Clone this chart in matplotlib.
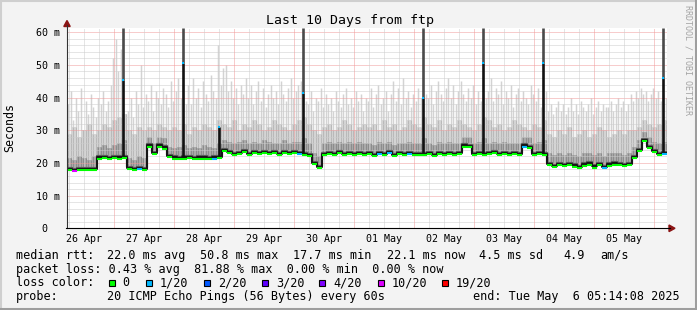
import numpy as np
import matplotlib
matplotlib.use('Agg')
import matplotlib.pyplot as plt
import matplotlib.transforms as mtransforms
from matplotlib.lines import Line2D
from matplotlib.patches import Rectangle, Polygon

W, H = 697, 310
MONO = 'DejaVu Sans Mono'
plt.rcParams['font.family'] = MONO

# x axis: hours since Apr 26 05:14:08, 10 days
SPAN = 240
STEP = 2            # median / smoke bands: one value per 2 hours
FIRST_MIDNIGHT = 18.7644

day_labels = ['26 Apr', '27 Apr', '28 Apr', '29 Apr', '30 Apr',
              '01 May', '02 May', '03 May', '04 May', '05 May']

# median rtt (ms), one per 2 h
median_ms = [
    17.8, 17.6, 17.9, 17.7, 17.8, 17.9, 21.3, 21.5, 21.2, 21.4, 21.3, 21.4,
    18.0, 17.8, 18.2, 17.9, 25.0, 22.8, 25.0, 24.4, 21.8, 21.3, 21.2, 21.3,
    21.4, 21.2, 21.3, 21.3, 21.2, 21.3, 21.4, 23.6, 23.0, 22.4, 22.8, 23.2,
    22.5, 23.0, 22.6, 23.1, 22.7, 22.9, 22.4, 23.0, 22.6, 22.9, 22.6, 22.3,
    22.0, 19.6, 18.3, 22.4, 22.8, 22.3, 22.9, 22.5, 22.7, 22.3, 22.8, 22.4,
    22.6, 22.1, 22.7, 22.3, 22.9, 22.2, 22.6, 22.4, 22.8, 22.3, 22.5, 22.4,
    22.6, 22.2, 22.7, 22.4, 22.8, 22.3, 22.6, 25.0, 24.8, 22.5, 22.8, 22.3,
    22.6, 22.9, 22.4, 22.7, 22.3, 22.6, 22.4, 25.0, 24.6, 22.5, 22.7, 22.4,
    19.4, 18.8, 19.3, 19.0, 19.4, 18.9, 18.3, 19.2, 19.5, 18.6, 19.3, 18.4,
    19.2, 19.5, 19.3, 19.0, 19.4, 21.6, 23.6, 26.6, 24.6, 23.2, 22.4, 22.6,
]

# top of the dense dark smoke (ms), one per 2 h
dark_ms = [
    21.5, 21.0, 22.0, 21.5, 21.0, 22.0, 25.0, 25.5, 24.5, 25.5, 26.0, 27.0,
    21.5, 21.0, 22.0, 21.5, 28.0, 26.0, 28.0, 27.5, 25.0, 24.5, 25.0, 25.5,
    24.5, 25.0, 24.5, 25.5, 25.0, 24.5, 26.0, 27.0, 26.5, 26.0, 26.5, 27.0,
    26.0, 26.5, 26.0, 27.0, 26.5, 26.0, 26.0, 27.0, 26.0, 26.5, 26.5, 27.5,
    26.0, 23.0, 22.0, 26.0, 26.5, 26.0, 26.5, 26.0, 26.5, 26.0, 26.5, 26.0,
    26.0, 25.5, 26.5, 26.0, 26.5, 25.5, 26.0, 26.0, 26.5, 26.0, 26.0, 27.5,
    26.0, 25.5, 26.5, 26.0, 26.5, 26.0, 26.0, 28.0, 28.0, 26.0, 26.5, 27.5,
    26.0, 26.5, 26.0, 26.5, 26.0, 26.0, 26.0, 28.0, 28.0, 26.0, 26.5, 27.0,
    23.0, 22.5, 23.0, 22.5, 23.0, 22.5, 22.0, 23.0, 23.0, 22.5, 23.0, 22.0,
    23.0, 23.0, 23.0, 22.5, 23.0, 25.0, 27.0, 29.5, 28.0, 26.5, 26.0, 26.5,
]

# top of the medium smoke (ms), one per 2 h
mid_ms = [
    29, 31, 28, 30, 32, 29, 30, 32, 31, 33, 34, 35,
    30, 29, 31, 30, 31, 30, 32, 31, 30, 31, 30, 32,
    29, 31, 30, 32, 31, 30, 33, 32, 31, 33, 30, 32,
    31, 33, 32, 30, 31, 33, 32, 31, 30, 32, 33, 34,
    32, 30, 29, 31, 32, 30, 31, 33, 32, 30, 31, 32,
    31, 32, 30, 33, 31, 32, 30, 31, 33, 32, 31, 34,
    32, 31, 33, 30, 32, 31, 33, 32, 31, 30, 32, 34,
    33, 31, 32, 30, 31, 33, 32, 31, 30, 32, 31, 33,
    29, 28, 30, 29, 31, 28, 29, 30, 28, 29, 31, 30,
    28, 29, 30, 29, 30, 30, 31, 33, 32, 31, 32, 33,
]

# max ping (ms), one per hour
max_ms = [
    38, 42, 33, 40, 36, 43, 30, 39, 35, 41, 37, 34, 40, 38, 42, 36, 39, 44, 52, 58, 48, 55, 60, 35,
    36, 40, 34, 42, 38, 50, 37, 41, 39, 44, 36, 42, 40, 38, 43, 41, 37, 45, 39, 42, 46, 40, 44, 38,
    44, 38, 46, 40, 43, 37, 45, 41, 39, 47, 42, 40, 56, 44, 49, 50, 42, 45, 40, 43, 38, 44, 41, 46,
    40, 44, 38, 42, 45, 39, 43, 37, 41, 44, 40, 42, 38, 45, 41, 39, 43, 46, 40, 42, 44, 45, 41, 39,
    38, 42, 36, 40, 39, 43, 37, 41, 38, 40, 36, 42, 39, 37, 41, 43, 38, 40, 37, 42, 39, 41, 36, 40,
    39, 43, 37, 41, 44, 38, 40, 42, 36, 41, 45, 39, 43, 38, 46, 40, 42, 37, 41, 39, 43, 40, 38, 41,
    40, 44, 38, 42, 45, 41, 39, 43, 46, 40, 44, 38, 42, 45, 41, 39, 43, 40, 44, 38, 42, 39, 41, 40,
    42, 46, 39, 43, 41, 45, 38, 42, 40, 44, 37, 41, 43, 39, 42, 40, 38, 44, 41, 39, 43, 37, 40, 42,
    36, 38, 35, 37, 39, 36, 38, 35, 37, 40, 36, 38, 35, 39, 37, 36, 38, 40, 35, 37, 39, 36, 38, 37,
    37, 39, 36, 38, 40, 37, 39, 36, 38, 41, 39, 42, 40, 43, 41, 42, 39, 41, 43, 40, 42, 39, 41, 40,
]

# samples whose median had loss (index into median_ms, loss level index)
loss_idx = [1, 14, 29, 46, 62, 64, 68, 91, 107, 119]
loss_lvl = [5, 1, 1, 1, 1, 1, 1, 1, 1, 1]

# loss spikes
spike_h = [22.4, 46.4, 60.8, 94.4, 142.4, 166.4, 190.4, 238.4]
spike_med = [45.4, 50.5, 31.0, 41.5, 39.8, 50.5, 50.7, 46.0]
spike_top = [61.2, 61.2, 31.0, 61.2, 61.2, 61.2, 61.2, 61.2]

loss_names = ['0', '1/20', '2/20', '3/20', '4/20', '10/20', '19/20']
loss_colors = ['#00ff00', '#00b8ff', '#0059ff', '#5e00ff', '#7e00ff', '#dd00ff', '#ff0000']

fig = plt.figure(figsize=(W / 100, H / 100), dpi=100)
fig.patch.set_facecolor('#f3f3f3')


def px(x, y):
    return x / W, 1 - y / H


def ftext(x, y, s, **kw):
    kw.setdefault('size', 8.5)
    kw.setdefault('va', 'baseline')
    fig.text(*px(x, y), s, family=MONO, color=kw.pop('color', 'black'), **kw)


ax = fig.add_axes([67 / W, 1 - 228.3 / H, 600 / W, 200 / H])
ax.set_facecolor('white')
ax.set_xlim(0, SPAN)
ax.set_ylim(0, 61.2)
for s in ax.spines.values():
    s.set_visible(False)

med = np.array(median_ms)
t2 = np.arange(len(med)) * STEP
te = np.append(t2, SPAN)
t1 = np.arange(len(max_ms)) + 0.5
base1 = med[np.arange(len(max_ms)) // STEP]
mid1 = np.array(mid_ms)[np.arange(len(max_ms)) // STEP]
dark1 = np.array(dark_ms)[np.arange(len(max_ms)) // STEP]

# smoke, light to dark
ax.vlines(t1, base1, max_ms, color='#d3d3d3', lw=1.05, zorder=1)
ax.fill_between(te, np.append(med, med[-1]), np.append(mid_ms, mid_ms[-1]),
                step='post', color='#d6d6d6', lw=0, zorder=1.1)
ax.vlines(t1, base1, mid1, color='#b9b9b9', lw=0.8, zorder=1.2)
ax.fill_between(te, np.append(med, med[-1]), np.append(dark_ms, dark_ms[-1]),
                step='post', color='#acacac', lw=0, zorder=1.3)
ax.vlines(t1, base1, dark1, color='#8c8c8c', lw=0.8, zorder=1.4)

# grid
h_minor = [v for v in range(2, 61, 2) if v % 10]
for v in h_minor:
    ax.axhline(v, color='#cdcdcd', lw=0.72, ls=(0, (1, 1)), zorder=3)
for v in range(10, 61, 10):
    ax.axhline(v, color='#f09a9a', lw=0.72, ls=(0, (1, 1)), zorder=3)
for k in range(-3, 41):
    h = FIRST_MIDNIGHT + 6 * k
    if 0 < h < SPAN:
        col = '#f09a9a' if k % 4 == 0 else '#cdcdcd'
        ax.axvline(h, color=col, lw=0.72, ls=(0, (1, 1)), zorder=3)

# median line
medx = np.append(med, med[-1])
up2 = mtransforms.offset_copy(ax.transData, fig=fig, x=0, y=2.2, units='dots')
up1 = mtransforms.offset_copy(ax.transData, fig=fig, x=0, y=1.2, units='dots')
ax.step(te, medx, where='post', color='#5a5a5a', lw=1.6, zorder=3.8, transform=up2)
ax.step(te, medx, where='post', color='#141414', lw=1.4, zorder=4, transform=up1)
cols = [loss_colors[0]] * len(med)
for i, l in zip(loss_idx, loss_lvl):
    cols[i] = loss_colors[l]
ax.hlines(med, t2, t2 + STEP, colors=cols, lw=1.5, zorder=5)

# loss spikes
for h, sm, st in zip(spike_h, spike_med, spike_top):
    base = med[int(h // STEP)]
    ax.vlines(h, base, sm, color='#111111', lw=1.9, zorder=4.5)
    if st > sm:
        ax.vlines(h, sm, st, color='#4a4a4a', lw=1.9, zorder=4.5)
    ax.hlines(sm, h - 0.35, h + 0.35, color=loss_colors[1], lw=1.5, zorder=5)

# ticks
noons = [FIRST_MIDNIGHT - 12 + 24 * k for k in range(10)]
ax.set_xticks(noons, day_labels)
ax.set_yticks(range(0, 61, 10), ['0  '] + ['%d m' % v for v in range(10, 61, 10)])
ax.tick_params(axis='x', length=0, pad=3.8, labelsize=7.2)
ax.tick_params(axis='y', length=0, pad=5.0, labelsize=7.2)

# axis lines with arrows
fig.add_artist(Line2D([67 / W, 67 / W], [1 - 228.3 / H, 1 - 25 / H], color='#333333', lw=0.8))
fig.add_artist(Line2D([66 / W, 670 / W], [1 - 228.3 / H, 1 - 228.3 / H], color='black', lw=0.8))
fig.add_artist(Polygon([px(67, 20.5), px(63.8, 26.5), px(70.2, 26.5)], closed=True,
                       transform=fig.transFigure, color='#8b1414'))
fig.add_artist(Polygon([px(675, 228.3), px(669, 225), px(669, 231.6)], closed=True,
                       transform=fig.transFigure, color='#8b1414'))

# frame
fig.add_artist(Line2D([0, 1], [1 - 0.7 / H] * 2, color='#cfcfcf', lw=1.5))
fig.add_artist(Line2D([0.7 / W] * 2, [0, 1], color='#cfcfcf', lw=1.5))
fig.add_artist(Line2D([0, 1], [1.4 / H] * 2, color='#9e9e9e', lw=2.2))
fig.add_artist(Line2D([1 - 1.4 / W] * 2, [0, 1], color='#9e9e9e', lw=2.2))

# texts
ftext(350, 24.3, 'Last 10 Days from ftp', ha='center', size=9.5)
fig.text(*px(10, 127.5), 'Seconds', rotation=90, ha='center', va='center', size=8.4, family=MONO)
fig.text(*px(688, 60), 'RRDTOOL / TOBI OETIKER', rotation=270, ha='center', va='center',
         size=6, family=MONO, color='#a4a4a4')

ftext(16, 259, 'median rtt:')
for x, s in zip([107, 200, 293, 386.5, 479, 563, 600],
                ['22.0 ms avg', '50.8 ms max', '17.7 ms min', '22.1 ms now', '4.5 ms sd', '4.9', 'am/s']):
    ftext(x, 259, s)

ftext(16, 272.5, 'packet loss: 0.43 % avg  81.88 % max  0.00 % min  0.00 % now')

ftext(16, 286, 'loss color:')
sq_x = [109, 146, 204, 262, 319, 378, 442]
lab_x = [122.5, 160, 218, 276, 333, 391.5, 456]
for sx, lx, name, c in zip(sq_x, lab_x, loss_names, loss_colors):
    fig.add_artist(Rectangle(px(sx, 286), 6 / W, 6 / H, transform=fig.transFigure,
                             fc=c, ec='black', lw=0.8))
    ftext(lx, 286, name)

ftext(16, 300, 'probe:')
ftext(107, 300, '20 ICMP Echo Pings (56 Bytes) every 60s')
ftext(680, 300, 'end: Tue May  6 05:14:08 2025', ha='right')

fig.savefig('out.png', dpi=100, facecolor=fig.get_facecolor())
